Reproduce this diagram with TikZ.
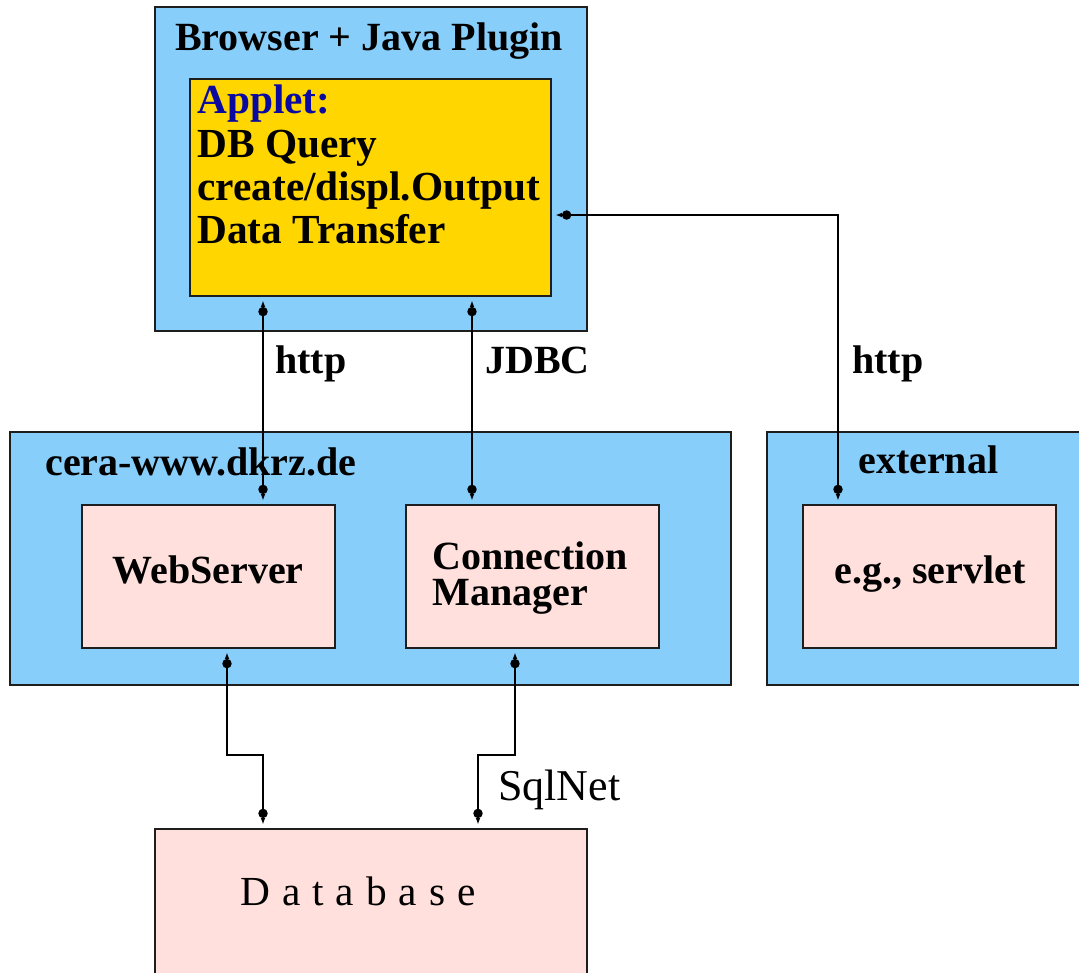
\documentclass[tikz,border=0pt]{standalone}
\usepackage{fontspec}
\setmainfont{Liberation Serif}
\usetikzlibrary{arrows.meta,fit}
\definecolor{skyfill}{RGB}{135,206,250}
\definecolor{goldfill}{RGB}{255,214,0}
\definecolor{rosefill}{RGB}{255,224,220}
\definecolor{appletblue}{RGB}{10,10,160}
\definecolor{edgecol}{RGB}{30,30,30}
\begin{document}
\begin{tikzpicture}[x=0.75pt,y=-0.75pt,
  frame/.style={draw=edgecol,line width=1.4pt,inner sep=0pt,rectangle},
  hostbox/.style={frame,fill=skyfill},
  appletbox/.style={frame,fill=goldfill},
  compbox/.style={frame,fill=rosefill},
  lbl/.style={anchor=base west,inner sep=0pt,font=\fontsize{30}{36}\selectfont\bfseries},
  appletlbl/.style={lbl,font=\fontsize{31}{36}\selectfont\bfseries},
  plainlbl/.style={anchor=base west,inner sep=0pt,font=\fontsize{31}{36}\selectfont},
  endtip/.tip={Ellipse[length=7pt,width=7pt]Latex[length=5pt,width=3.5pt]},
  conn/.style={draw=black,line width=1.4pt,endtip-endtip,
    shorten <=2.5pt,shorten >=2.5pt}]
\useasboundingbox (0,0) rectangle (1079,972);

% hosts
\node[hostbox,fit={(155,7) (587,331)}] (browser) {};
\node[appletbox,fit={(190,79) (551,296)}] (applet) {};
\node[hostbox,fit={(10,432) (731,685)}] (cera) {};
\node[hostbox,fit={(767,432) (1090,685)}] (ext) {};

% components
\node[compbox,fit={(82,505) (335,648)}] (websrv) {};
\node[compbox,fit={(406,505) (659,648)}] (connmgr) {};
\node[compbox,fit={(803,505) (1056,648)}] (servlet) {};
\node[compbox,fit={(155,829) (587,985)}] (db) {};

% titles and contents
\node[lbl] (browsertitle) at (175,50) {Browser + Java Plugin};
\node[appletlbl,text=appletblue] (appletline) at (197,113) {Applet:};
\node[appletlbl] (queryline) at (197,157) {DB Query};
\node[appletlbl] (outline) at (197,200) {create/displ.Output};
\node[appletlbl] (xferline) at (197,243) {Data Transfer};
\node[lbl] (ceratitle) at (45,475) {cera-www.dkrz.de};
\node[lbl] (exttitle) at (858,473) {external};
\node[lbl,anchor=base] (wstext) at (208,583) {WebServer};
\node[lbl,align=left,anchor=north west,
      font=\fontsize{30}{27.5}\selectfont\bfseries] (cmtext) at (432,541)
  {Connection\\Manager};
\node[lbl,anchor=base] (svtext) at (930,583) {e.g., servlet};
\node[plainlbl,anchor=base west] (dbtext) at (240,905)
  {\addfontfeature{LetterSpace=29}Database};

% connector labels
\node[lbl] (httpl) at (275,373) {http};
\node[lbl] (jdbcl) at (485,373) {JDBC};
\node[lbl] (httpr) at (852,373) {http};
\node[plainlbl,font=\fontsize{33}{36}\selectfont] (sqll) at (498,800) {SqlNet};

% routing points
\coordinate (hx) at (263,0);
\coordinate (jx) at (472,0);
\coordinate (hr) at (838,215);
\coordinate (wb1) at (227,755);
\coordinate (wb2) at (263,755);
\coordinate (cb1) at (515,755);
\coordinate (cb2) at (478,755);

% connectors
\draw[conn] (applet.south -| hx) -- (websrv.north -| hx);
\draw[conn] (applet.south -| jx) -- (connmgr.north -| jx);
\draw[conn] (hr -| applet.east) -- (hr) -- (servlet.north -| hr);
\draw[conn] (websrv.south -| wb1) -- (wb1) -- (wb2) -- (db.north -| wb2);
\draw[conn] (connmgr.south -| cb1) -- (cb1) -- (cb2) -- (db.north -| cb2);
\end{tikzpicture}
\end{document}
